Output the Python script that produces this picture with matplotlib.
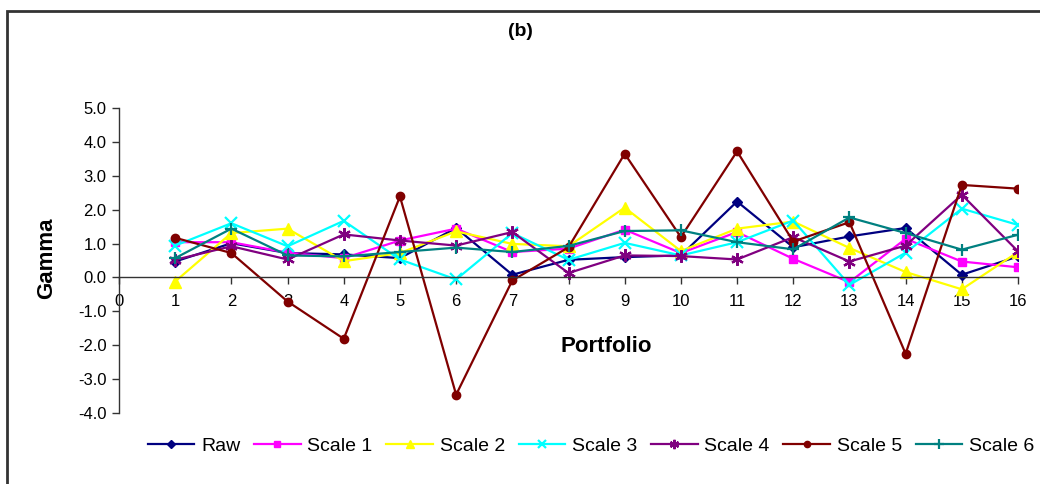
import matplotlib.pyplot as plt
import matplotlib.patches as mpatches
import numpy as np

plt.rcParams['font.family'] = ['Liberation Sans', 'DejaVu Sans']

# portfolios 1..16
portfolios = list(range(1, 17))

raw = [0.47, 1.01, 0.72, 0.68, 0.57, 1.46, 0.08, 0.52, 0.60, 0.65, 2.24, 0.89, 1.21, 1.46, 0.08, 0.62]
scale1 = [1.04, 1.04, 0.73, 0.57, 1.09, 1.44, 0.75, 0.85, 1.41, 0.72, 1.34, 0.55, -0.14, 1.14, 0.47, 0.30]
scale2 = [-0.12, 1.31, 1.44, 0.48, 0.72, 1.36, 0.99, 0.92, 2.06, 0.78, 1.44, 1.65, 0.87, 0.16, -0.35, 0.75]
scale3 = [0.94, 1.60, 0.92, 1.67, 0.53, -0.06, 1.31, 0.52, 1.02, 0.65, 1.04, 1.68, -0.22, 0.73, 2.03, 1.55]
scale4 = [0.52, 0.92, 0.53, 1.27, 1.09, 0.94, 1.34, 0.13, 0.65, 0.63, 0.53, 1.19, 0.47, 0.94, 2.44, 0.77]
scale5 = [1.17, 0.72, -0.71, -1.81, 2.39, -3.46, -0.09, 0.89, 3.65, 1.19, 3.72, 1.06, 1.63, -2.25, 2.73, 2.62]
scale6 = [0.57, 1.44, 0.65, 0.62, 0.75, 0.88, 0.75, 0.93, 1.37, 1.39, 1.04, 0.83, 1.77, 1.31, 0.82, 1.26]

series_names = ["Raw", "Scale 1", "Scale 2", "Scale 3", "Scale 4", "Scale 5", "Scale 6"]
series_vals = [raw, scale1, scale2, scale3, scale4, scale5, scale6]
colors = ["#000080", "#FF00FF", "#FFFF00", "#00FFFF", "#800080", "#800000", "#008080"]
markers = ["D", "s", "^", "x", (6, 2, 0), "o", "+"]
msizes = [5.5, 6, 8, 8, 9, 6, 9]

fig = plt.figure(figsize=(10.4, 4.84), dpi=100)
ax = fig.add_axes([119 / 1040, 1 - 413 / 484, (1018 - 119) / 1040, (413 - 108) / 484])

for name, vals, c, m, ms in zip(series_names, series_vals, colors, markers, msizes):
    ax.plot(portfolios, vals, color=c, marker=m, markersize=ms, linewidth=1.6,
            markeredgewidth=1.6 if m in ("x", "+") or isinstance(m, tuple) else 1.0,
            label=name)

ax.set_xlim(0, 16)
ax.set_ylim(-4, 5)
ax.set_xticks(range(0, 17))
ax.set_yticks(np.arange(-4, 5.1, 1))
ax.set_yticklabels([f"{v:.1f}" for v in np.arange(-4, 5.1, 1)])

ax.spines['top'].set_visible(False)
ax.spines['right'].set_visible(False)
ax.spines['bottom'].set_position(('data', 0))
for sp in ('left', 'bottom'):
    ax.spines[sp].set_color('#333333')
    ax.spines[sp].set_linewidth(1.0)
ax.tick_params(axis='both', direction='out', length=5, width=1.0, color='#333333', labelsize=12)
ax.tick_params(axis='x', pad=7)
ax.tick_params(axis='y', pad=4)

fig.text(520 / 1040, 1 - 32 / 484, "(b)", ha='center', va='center', fontsize=14, fontweight='bold')
fig.text(606 / 1040, 1 - 347 / 484, "Portfolio", ha='center', va='center', fontsize=16, fontweight='bold')
fig.text(47 / 1040, 1 - 258 / 484, "Gamma", ha='center', va='center', fontsize=16,
         fontweight='bold', rotation=90)

fig.legend(loc='center', bbox_to_anchor=(591 / 1040, 1 - 446 / 484), ncol=7, frameon=False,
           fontsize=14, handlelength=2.4, handletextpad=0.35, columnspacing=0.7, markerscale=0.75)

frame = mpatches.Rectangle((7 / 1040, -0.1), 1.2, 1.1 - 11 / 484, transform=fig.transFigure,
                           fill=False, edgecolor='#333333', linewidth=2.0)
fig.add_artist(frame)

fig.savefig("out.png", dpi=100)
